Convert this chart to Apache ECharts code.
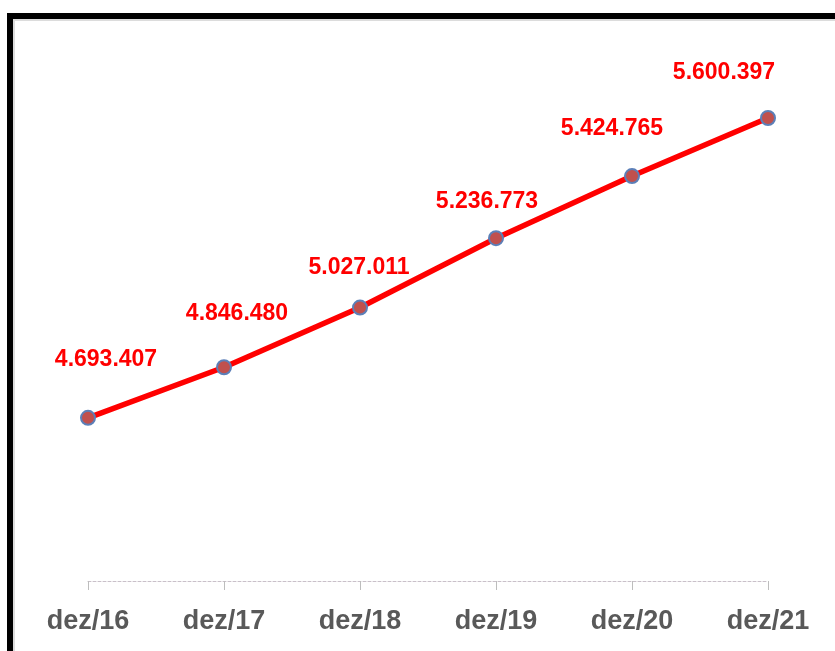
<!DOCTYPE html>
<html>
<head>
<meta charset="utf-8">
<script src="https://cdn.jsdelivr.net/npm/echarts@6/dist/echarts.min.js"></script>
<style>
html,body{margin:0;padding:0;background:#fff;}
#chart{width:835px;height:651px;}
</style>
</head>
<body>
<div id="chart"></div>
<script>
var categories = ['dez/16', 'dez/17', 'dez/18', 'dez/19', 'dez/20', 'dez/21'];
var values = [4693407, 4846480, 5027011, 5236773, 5424765, 5600397];

// label offsets (style only)
var labelOffsets = [[18, -58], [13, -54], [-1, -40], [-9, -37], [-20, -47], [-44, -45]];

function fmt(v) {
  return String(v).replace(/\B(?=(\d{3})+(?!\d))/g, '.');
}

var seriesData = values.map(function (v, i) {
  return { value: v, label: { offset: labelOffsets[i] } };
});

var chart = echarts.init(document.getElementById('chart'), null, { renderer: 'canvas' });
chart.setOption({
  backgroundColor: '#ffffff',
  animation: false,
  grid: { left: 88, right: 67, top: 52, bottom: 70, containLabel: false },
  xAxis: {
    type: 'category',
    data: categories,
    boundaryGap: false,
    axisLine: { show: true, lineStyle: { color: '#c9c0c9', width: 1, type: [3, 2] } },
    axisTick: { show: true, length: 9, lineStyle: { color: '#bdbdbd', width: 1 } },
    axisLabel: {
      color: '#595959',
      fontFamily: 'Liberation Sans',
      fontWeight: 'bold',
      fontSize: 27,
      margin: 27
    },
    splitLine: { show: false }
  },
  yAxis: {
    type: 'value',
    min: 4200000,
    max: 5800000,
    show: false,
    splitLine: { show: false }
  },
  series: [{
    type: 'line',
    data: seriesData,
    lineStyle: { color: '#ff0000', width: 5.5 },
    symbol: 'circle',
    symbolSize: 14,
    itemStyle: { color: '#c0504d', borderColor: '#5b7fb8', borderWidth: 2 },
    label: {
      show: true,
      position: 'inside',
      align: 'center',
      verticalAlign: 'middle',
      color: '#ff0000',
      fontFamily: 'Liberation Sans',
      fontWeight: 'bold',
      fontSize: 23,
      formatter: function (p) { return fmt(p.value); }
    },
    z: 3
  }],
  graphic: [
    {
      type: 'rect',
      shape: { x: 14, y: 20, width: 1000, height: 1000 },
      style: { fill: 'none', stroke: '#dcdcdc', lineWidth: 2 },
      silent: true
    },
    {
      type: 'rect',
      shape: { x: 10, y: 16, width: 1000, height: 1000 },
      style: { fill: 'none', stroke: '#000000', lineWidth: 6 },
      silent: true
    }
  ]
});
</script>
</body>
</html>
